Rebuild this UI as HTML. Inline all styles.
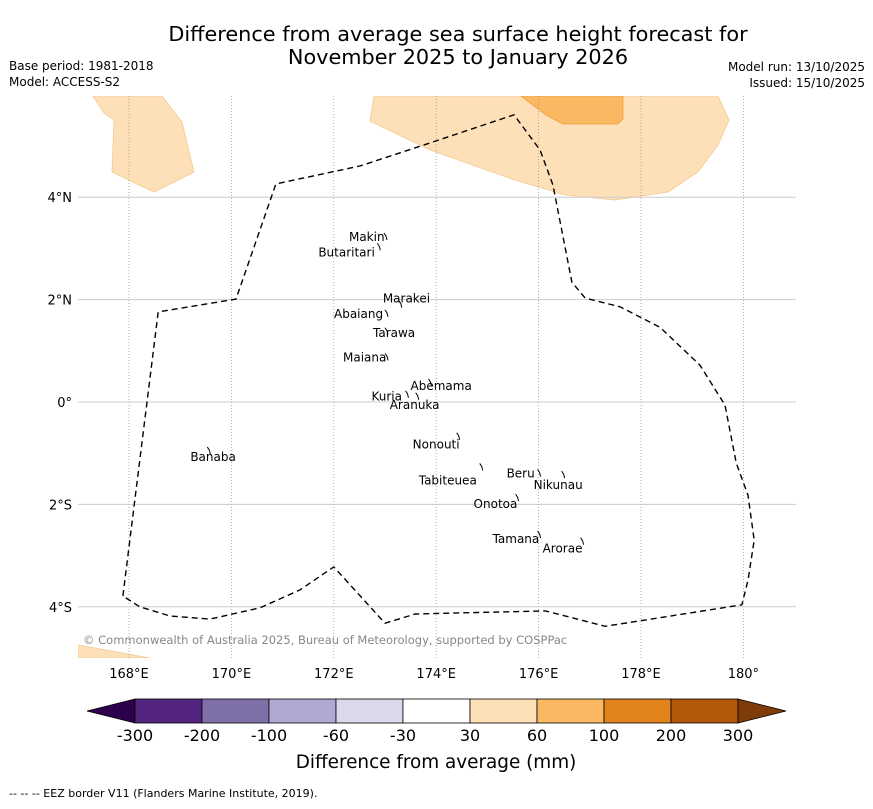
<!DOCTYPE html>
<html><head><meta charset="utf-8">
<style>
body{margin:0;background:#fff;font-family:"Liberation Sans","DejaVu Sans",sans-serif;}
svg text{font-family:"DejaVu Sans","Liberation Sans",sans-serif;}
</style></head>
<body>
<svg id="chart" width="873" height="804" xmlns="http://www.w3.org/2000/svg">
<text x="458" y="41" text-anchor="middle" font-size="20.8">Difference from average sea surface height forecast for</text>
<text x="458" y="64" text-anchor="middle" font-size="20.8">November 2025 to January 2026</text>
<text x="9" y="70" font-size="12">Base period: 1981-2018</text>
<text x="9" y="86" font-size="12">Model: ACCESS-S2</text>
<text x="865" y="71" text-anchor="end" font-size="12">Model run: 13/10/2025</text>
<text x="865" y="87" text-anchor="end" font-size="12">Issued: 15/10/2025</text>
<defs><clipPath id="mapclip"><rect x="78" y="96" width="718" height="562"/></clipPath></defs>
<g id="map" clip-path="url(#mapclip)">
<g fill="#fde0b8" stroke="#f3c98f" stroke-width="0.8">
<polygon points="93,96 104,113 114,120 112,172 154,192 194,172 182,122 162,96"/>
<polygon points="374,96 370,121 430,150 515,180 565,195 615,200 668,192 698,172 718,145 729,120 718,96"/>
<polygon points="78,645 150,658 78,658"/>
</g>
<polygon fill="#fbb862" stroke="#f0a040" stroke-width="0.8" points="521,96 546,115 563,124 618,124 623,119 623,96"/>
<g id="grid"></g>
<path id="eez" fill="none" stroke="#000" stroke-width="1.4" stroke-dasharray="6,4"/>
<g id="islands" stroke="#000" stroke-width="1" fill="none"></g>
<text x="83" y="644" font-size="11.5" fill="#888">© Commonwealth of Australia 2025, Bureau of Meteorology, supported by COSPPac</text>
</g>
<g id="axes"></g>
<g id="colorbar"></g>
<text x="436" y="768" text-anchor="middle" font-size="18.4">Difference from average (mm)</text>
<text x="9" y="797" font-size="11">--  --  -- EEZ border V11 (Flanders Marine Institute, 2019).</text>
</svg>
<script>
const lonTicks=[168,170,172,174,176,178,180];
const lonLabels=["168°E","170°E","172°E","174°E","176°E","178°E","180°"];
const latTicks=[4,2,0,-2,-4];
const latLabels=["4°N","2°N","0°","2°S","4°S"];
const eezLon=[167.88,168.57,170.09,170.87,172.51,173.88,175.52,176.03,176.28,176.65,176.91,177.59,178.37,179.15,179.64,179.86,180.09,180.21,180.09,179.97,177.30,176.13,173.59,173.00,172.00,171.34,170.56,169.58,168.80,168.21,167.88];
const eezLat=[-3.79,1.76,2.01,4.26,4.61,5.06,5.61,4.92,4.24,2.34,2.03,1.86,1.46,0.72,-0.06,-1.19,-1.82,-2.70,-3.48,-3.96,-4.38,-4.08,-4.14,-4.32,-3.22,-3.67,-4.02,-4.24,-4.18,-4.00,-3.79];
const islandNames=["Makin","Butaritari","Marakei","Abaiang","Tarawa","Maiana","Abemama","Kuria","Aranuka","Nonouti","Tabiteuea","Beru","Nikunau","Onotoa","Tamana","Arorae","Banaba"];
const islandLon=[172.98,172.85,173.27,173.0,173.0,173.0,173.85,173.4,173.6,174.4,174.85,175.98,176.45,175.55,175.98,176.82,169.53];
const islandLat=[3.3,3.1,1.98,1.8,1.45,0.95,0.45,0.22,0.18,-0.6,-1.2,-1.32,-1.35,-1.8,-2.52,-2.65,-0.88];
const labelDx=[-35,-59,-16,-51,-12,-42,-18,-34,-26,-44,-61,-31,-28,-42,-45,-38,-17];
const labelDy=[8,13,2,8,9,8,11,10,16,16,21,8,18,14,12,15,14];
const cbLevels=["-300","-200","-100","-60","-30","30","60","100","200","300"];
const cbColors=["#522480","#7f70aa","#b0a9d2","#d9d9eb","#ffffff","#fde0b8","#fbb862","#e2821a","#b35708"];
const NS="http://www.w3.org/2000/svg";
const x=lon=>129+(lon-168)*51.2;
const y=lat=>402-lat*51.2;
function mk(tag,attrs,parent){const e=document.createElementNS(NS,tag);for(const k in attrs)e.setAttribute(k,attrs[k]);parent.appendChild(e);return e;}
const grid=document.getElementById('grid'),axes=document.getElementById('axes');
lonTicks.forEach((t,i)=>{
 const l=mk('line',{x1:x(t),x2:x(t),y1:96,y2:658,stroke:'#999','stroke-width':0.8,'stroke-dasharray':'1,2'},grid);
 
 
 const tx=mk('text',{x:x(t),y:678,'text-anchor':'middle','font-size':13},axes);tx.textContent=lonLabels[i];
 
 
});
latTicks.forEach((t,i)=>{
 const l=mk('line',{x1:78,x2:796,y1:y(t),y2:y(t),stroke:'#ccc','stroke-width':1},grid);
 
 
 const tx=mk('text',{x:72,y:y(t)+5,'text-anchor':'end','font-size':13},axes);tx.textContent=latLabels[i];
 
 
});
document.getElementById('eez').setAttribute('d',eezLon.map((v,i)=>(i?'L':'M')+x(v).toFixed(1)+','+y(eezLat[i]).toFixed(1)).join(''));
const isl=document.getElementById('islands');
islandNames.forEach((n,i)=>{
 const px=x(islandLon[i]),py=y(islandLat[i]);
 const p=mk('path',{d:`M${px},${py} l2,3 l1,4`},isl);
 
 
 const t=mk('text',{x:px+labelDx[i],y:py+labelDy[i],'font-size':12,fill:'#000',stroke:'none'},isl);t.textContent=n;
 
 
});
const cb=document.getElementById('colorbar');
const cx0=135,cw=67,cy=699,ch=24;
const lt=mk('polygon',{points:`87,711 ${cx0},${cy} ${cx0},${cy+ch}`,fill:'#2d004b',stroke:'#000','stroke-width':0.8},cb);


cbColors.forEach((c,i)=>{
 const r=mk('rect',{x:cx0+i*cw,y:cy,width:cw,height:ch,fill:c,stroke:'#000','stroke-width':0.8},cb);
 
 
});
const xe=cx0+cbColors.length*cw;
const rt=mk('polygon',{points:`${xe},${cy} 786,711 ${xe},${cy+ch}`,fill:'#7f3b08',stroke:'#000','stroke-width':0.8},cb);


cbLevels.forEach((v,i)=>{
 const t=mk('text',{x:cx0+i*cw,y:741,'text-anchor':'middle','font-size':16},cb);t.textContent=v;
 
 
});
</script>
</body></html>
